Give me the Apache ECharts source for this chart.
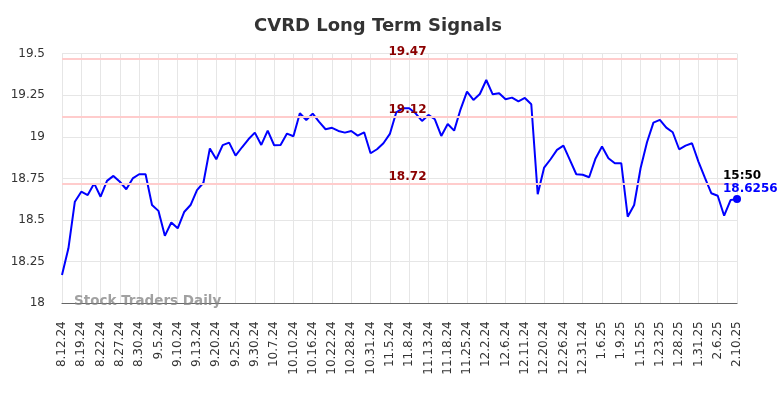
<!DOCTYPE html>
<html>
<head>
<meta charset="utf-8">
<script src="https://cdn.jsdelivr.net/npm/echarts@6/dist/echarts.min.js"></script>
<style>
  html, body { margin: 0; padding: 0; background: #fff; }
  #chart { width: 784px; height: 398px; }
</style>
</head>
<body>
<div id="chart"></div>
<script>
// trading dates, a label every third one
const dates = [
  '8.12.24', '8.14.24', '8.16.24', '8.19.24', '8.20.24', '8.21.24',
  '8.22.24', '8.23.24', '8.26.24', '8.27.24', '8.28.24', '8.29.24',
  '8.30.24', '9.3.24', '9.4.24', '9.5.24', '9.6.24', '9.9.24',
  '9.10.24', '9.11.24', '9.12.24', '9.13.24', '9.16.24', '9.18.24',
  '9.20.24', '9.23.24', '9.24.24', '9.25.24', '9.26.24', '9.27.24',
  '9.30.24', '10.2.24', '10.4.24', '10.7.24', '10.8.24', '10.9.24',
  '10.10.24', '10.11.24', '10.14.24', '10.16.24', '10.18.24', '10.21.24',
  '10.22.24', '10.24.24', '10.25.24', '10.28.24', '10.29.24', '10.30.24',
  '10.31.24', '11.1.24', '11.4.24', '11.5.24', '11.6.24', '11.7.24',
  '11.8.24', '11.11.24', '11.12.24', '11.13.24', '11.14.24', '11.15.24',
  '11.18.24', '11.20.24', '11.22.24', '11.25.24', '11.26.24', '11.27.24',
  '12.2.24', '12.3.24', '12.4.24', '12.6.24', '12.9.24', '12.10.24',
  '12.11.24', '12.13.24', '12.17.24', '12.20.24', '12.23.24', '12.24.24',
  '12.26.24', '12.27.24', '12.30.24', '12.31.24', '1.2.25', '1.3.25',
  '1.6.25', '1.7.25', '1.8.25', '1.9.25', '1.13.25', '1.14.25',
  '1.15.25', '1.17.25', '1.21.25', '1.23.25', '1.24.25', '1.27.25',
  '1.28.25', '1.29.25', '1.30.25', '1.31.25', '2.3.25', '2.4.25',
  '2.6.25', '2.7.25', '2.9.25', '2.10.25'
];

const prices = [
  18.17, 18.33, 18.61, 18.67, 18.65, 18.72,
  18.64, 18.735, 18.765, 18.73, 18.685, 18.75,
  18.775, 18.775, 18.59, 18.555, 18.405, 18.485,
  18.45, 18.548, 18.59, 18.68, 18.724, 18.93,
  18.865, 18.95, 18.965, 18.887, 18.937, 18.985,
  19.025, 18.951, 19.037, 18.949, 18.951, 19.019,
  19.003, 19.141, 19.101, 19.139, 19.089, 19.045,
  19.054, 19.035, 19.025, 19.035, 19.007, 19.027,
  18.901, 18.925, 18.961, 19.017, 19.147, 19.171,
  19.171, 19.141, 19.095, 19.131, 19.105, 19.005,
  19.077, 19.037, 19.165, 19.271, 19.221, 19.257,
  19.341, 19.255, 19.261, 19.225, 19.235, 19.213,
  19.233, 19.195, 18.655, 18.815, 18.865, 18.921,
  18.947, 18.861, 18.775, 18.772, 18.757, 18.87,
  18.941, 18.871, 18.841, 18.841, 18.52, 18.59,
  18.811, 18.967, 19.085, 19.101, 19.055, 19.027,
  18.925, 18.947, 18.961, 18.851, 18.754, 18.661,
  18.646, 18.526, 18.62, 18.6256
];

// signal levels
const signalLevels = [19.47, 19.12, 18.72];

const lastTime = '15:50';
const lastPrice = 18.6256;

const chart = echarts.init(document.getElementById('chart'), null, { renderer: 'canvas' });

chart.setOption({
  animation: false,
  backgroundColor: '#fff',
  textStyle: { fontFamily: 'DejaVu Sans' },
  title: {
    text: 'CVRD Long Term Signals',
    left: 249,
    top: 12,
    textStyle: { fontSize: 18, fontWeight: 'bold', color: '#333', fontFamily: 'DejaVu Sans' }
  },
  grid: { left: 62, right: 47, top: 53.5, bottom: 94.7, containLabel: false },
  xAxis: {
    type: 'category',
    data: dates,
    boundaryGap: false,
    axisLine: { lineStyle: { color: '#666', width: 1.2 } },
    axisTick: { show: false },
    axisLabel: { rotate: 90, interval: 2, fontSize: 12, color: '#333', margin: 18 },
    splitLine: { show: true, interval: 2, lineStyle: { color: '#e6e6e6', width: 1 } }
  },
  yAxis: {
    type: 'value',
    min: 18,
    max: 19.5,
    interval: 0.25,
    axisLine: { show: false },
    axisTick: { show: false },
    axisLabel: { fontSize: 12, color: '#333', margin: 17 },
    splitLine: { lineStyle: { color: '#e6e6e6', width: 1 } }
  },
  graphic: [{
    type: 'text',
    left: 74,
    top: 294,
    z: 10,
    style: {
      text: 'Stock Traders Daily',
      fontSize: 13.5,
      fontWeight: 'bold',
      fontFamily: 'DejaVu Sans',
      fill: 'rgba(130,130,130,0.75)'
    }
  }],
  series: [{
    type: 'line',
    data: prices,
    symbol: 'none',
    lineStyle: { color: '#0000ff', width: 2 },
    markLine: {
      silent: true,
      symbol: 'none',
      lineStyle: { color: '#ffcccc', width: 2, type: 'solid' },
      label: {
        show: true,
        position: 'insideMiddleTop',
        distance: 1,
        padding: [0, 0, 0, 16],
        color: '#8b0000',
        fontWeight: 'bold',
        fontSize: 12,
        formatter: (p) => String(p.value)
      },
      data: signalLevels.map((v) => ({ yAxis: v }))
    },
    markPoint: {
      silent: true,
      symbol: 'circle',
      symbolSize: 8,
      itemStyle: { color: '#0000ff' },
      label: {
        show: true,
        position: [-10, -26],
        align: 'left',
        formatter: '{t|' + lastTime + '}\n{v|' + lastPrice + '}',
        rich: {
          t: { color: '#000', fontWeight: 'bold', fontSize: 12, lineHeight: 13 },
          v: { color: '#0000ff', fontWeight: 'bold', fontSize: 12, lineHeight: 13 }
        }
      },
      data: [{ coord: [dates.length - 1, lastPrice] }]
    }
  }]
});
</script>
</body>
</html>
